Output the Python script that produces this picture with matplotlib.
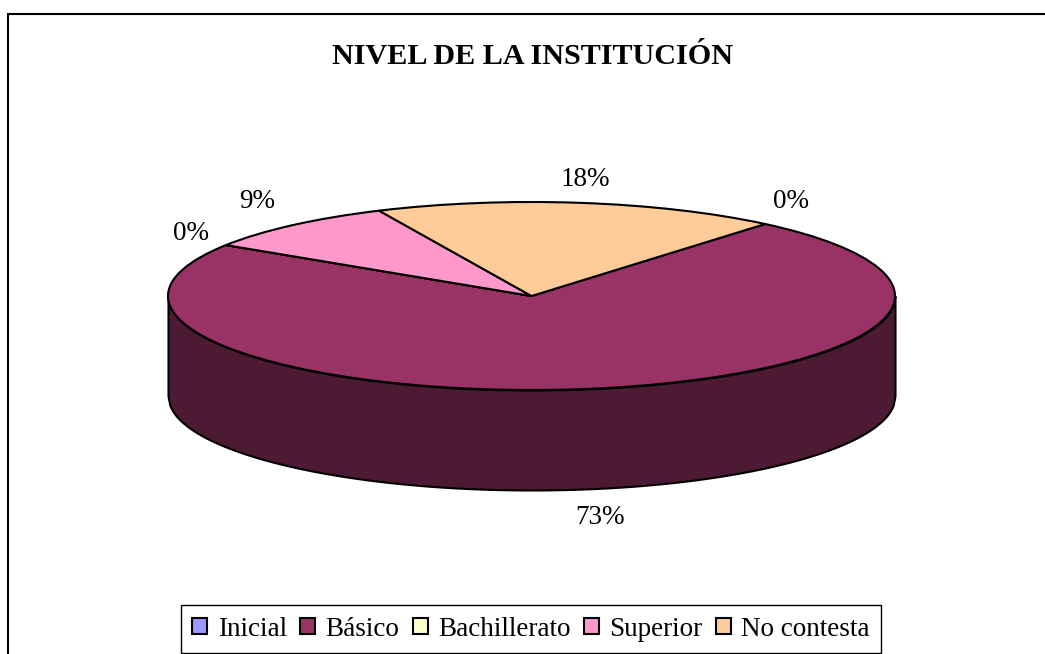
import numpy as np
import matplotlib
matplotlib.use("Agg")
from matplotlib import pyplot as plt
from matplotlib.patches import Rectangle

# Data
categories = ["Inicial", "Básico", "Bachillerato", "Superior", "No contesta"]
values = [0, 73, 0, 9, 18]
labels = ["0%", "73%", "0%", "9%", "18%"]
colors = ["#9999FF", "#993366", "#FFFFCC", "#FF99CC", "#FFCC99"]
title = "NIVEL DE LA INSTITUCIÓN"

plt.rcParams["font.family"] = ["Liberation Serif", "DejaVu Serif"]

W, H = 1045, 654
fig = plt.figure(figsize=(W / 100, H / 100), dpi=100)
ax = fig.add_axes([0, 0, 1, 1])

# Top face of the pie, squashed to an ellipse below
wedges, _ = ax.pie(values, startangle=50, counterclock=False, colors=colors, radius=1,
                   wedgeprops={"edgecolor": "black", "linewidth": 1.5, "zorder": 3})

# Pixel layout of the ellipse
cx, cy, rx, ry = 531.5, 296, 363.5, 94
depth = 100 / ry
ax.set_aspect("auto")
ax.set_xlim((0 - cx) / rx, (W - cx) / rx)
ax.set_ylim((cy - H) / ry, cy / ry)
ax.axis("off")

# Side wall of the disc, front half
xs = np.linspace(-1, 1, 400)
front = -np.sqrt(1 - xs ** 2)
ax.fill_between(xs, front - depth, front, color="#4D1A33", edgecolor="black", linewidth=1.5, zorder=2)

# Percentage labels (pixel positions from the picture)
label_px = [(191, 233), (600, 517), (791, 201), (257, 202), (585, 179)]
for txt, (px, py) in zip(labels, label_px):
    ax.text((px - cx) / rx, (cy - py) / ry, txt, fontsize=19.5, ha="center", va="center", color="black")

ax.text((533 - cx) / rx, (cy - 57) / ry, title, fontsize=21.7, fontweight="bold", ha="center", va="center")

# Outer chart frame, runs off the bottom and right of the image
fig.add_artist(Rectangle((8 / W, -0.05), 1.1, 0.05 + (H - 14) / H, transform=fig.transFigure,
                         fill=False, edgecolor="black", linewidth=1.5))

leg = fig.legend(wedges, categories, ncol=5, loc="lower left", bbox_to_anchor=(181 / W, 1 / H),
                 fontsize=19.5, fancybox=False, framealpha=1, edgecolor="black", borderpad=0.42,
                 columnspacing=0.5, handletextpad=0.38, handlelength=0.55, handleheight=0.55,
                 borderaxespad=0)
leg.get_frame().set_linewidth(1)

fig.savefig("out.png", dpi=100)
